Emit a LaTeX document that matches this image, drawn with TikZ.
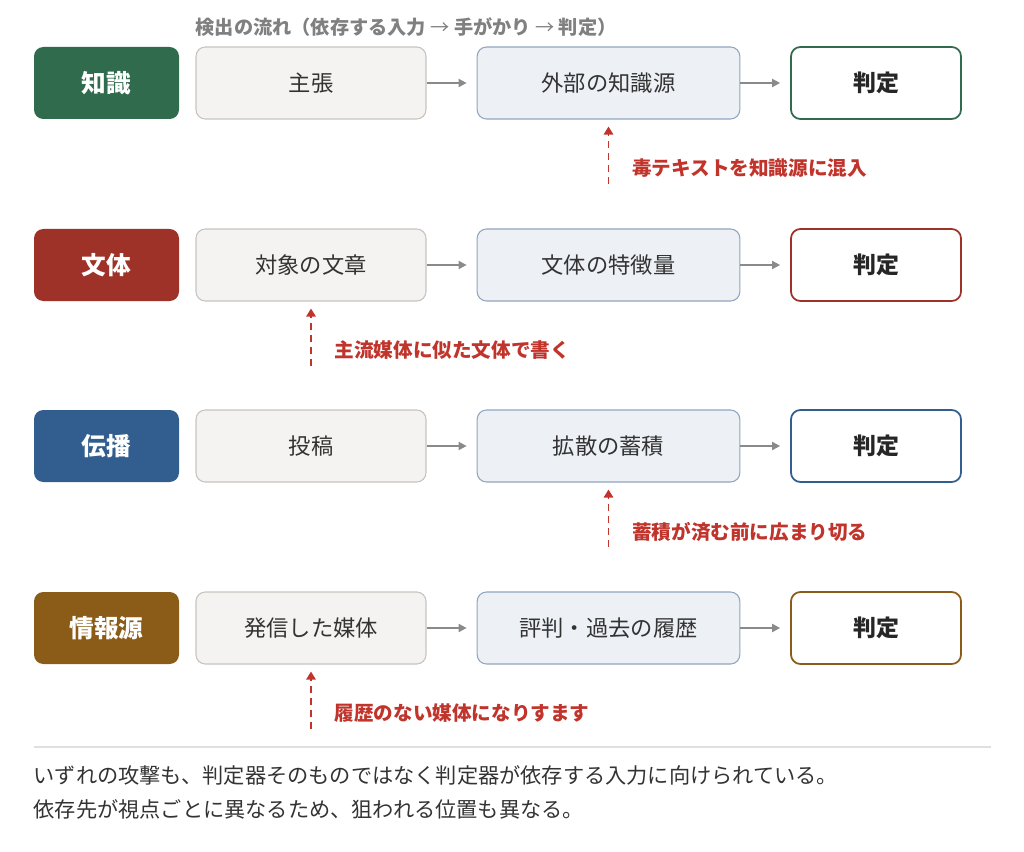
\documentclass[tikz,border=0pt]{standalone}
\usepackage{fontspec}
\setmainfont{Noto Sans CJK JP}
\usetikzlibrary{calc,arrows.meta}

\definecolor{cGreen}{HTML}{2F6B4C}
\definecolor{cRed}{HTML}{9E3128}
\definecolor{cBlue}{HTML}{315E8E}
\definecolor{cBrown}{HTML}{8A5C17}
\definecolor{atkRed}{HTML}{C0342C}
\definecolor{srcFill}{HTML}{F5F3F1}
\definecolor{srcLine}{HTML}{C8C3BE}
\definecolor{cueFill}{HTML}{EDF1F6}
\definecolor{cueLine}{HTML}{90A5BE}
\definecolor{flowGray}{HTML}{8A8A8A}

\tikzset{
  catbox/.style={rounded corners=7pt, minimum width=108.75pt, minimum height=54pt,
    text=white, font=\fontsize{18.5}{22}\selectfont\bfseries},
  srcbox/.style={draw=srcLine, fill=srcFill, rounded corners=7pt, line width=0.8pt,
    minimum width=172.5pt, minimum height=54pt, text=black!80, font=\fontsize{16.7}{20}\selectfont},
  cuebox/.style={draw=cueLine, fill=cueFill, rounded corners=7pt, line width=0.8pt,
    minimum width=197pt, minimum height=54pt, text=black!80, font=\fontsize{16.7}{20}\selectfont},
  jdgbox/.style={fill=white, rounded corners=7pt, line width=1.3pt,
    minimum width=127.5pt, minimum height=54pt, text=black!85, font=\fontsize{17.2}{20}\selectfont\bfseries},
  flow/.style={draw=flowGray, line width=1.3pt, -{Triangle[length=6pt,width=6pt]}},
  attack/.style={draw=atkRed, line width=1.3pt, dash pattern=on 5pt off 4pt,
    -{Triangle[length=6pt,width=7pt]}},
  atktext/.style={anchor=west, text=atkRed, font=\fontsize{14.7}{17}\selectfont\bfseries},
}
\newcommand{\thinarr}{{\mdseries →}}

\begin{document}
\begin{tikzpicture}[x=0.75pt,y=-0.75pt]
  \useasboundingbox (0,0) rectangle (1024,852);

  \node[anchor=west, text=black!50, font=\fontsize{14.4}{17}\selectfont\bfseries]
    (title) at (191,27) {検出の流れ（依存する入力 \thinarr{} 手がかり \thinarr{} 判定）};

  \foreach \i/\y/\cat/\col/\src/\cue/\atk/\ax in {
      1/83/知識/cGreen/主張/外部の知識源/毒テキストを知識源に混入/cue,
      2/265/文体/cRed/対象の文章/文体の特徴量/主流媒体に似た文体で書く/src,
      3/446/伝播/cBlue/投稿/拡散の蓄積/蓄積が済む前に広まり切る/cue,
      4/628/情報源/cBrown/発信した媒体/評判・過去の履歴/履歴のない媒体になりすます/src}{
    \node[catbox, fill=\col] (cat\i) at (106.5,\y) {\cat};
    \node[srcbox] (src\i) at (311,\y) {\src};
    \node[cuebox] (cue\i) at (608.5,\y) {\cue};
    \node[jdgbox, draw=\col] (jdg\i) at (876,\y) {判定};

    \draw[flow] (src\i.east) -- ([xshift=-7.5pt]cue\i.west);
    \draw[flow] (cue\i.east) -- ([xshift=-7.5pt]jdg\i.west);

    \coordinate (atk\i) at ($(\ax\i.south)+(0,64)$);
    \draw[attack] (atk\i) -- ($(\ax\i.south)+(0,7)$);
    \node[atktext] (lbl\i) at ($(atk\i)+(19,-15)$) {\atk};
  }

  \draw[black!12, line width=1pt] (34,747) -- (991,747);

  \node[anchor=west, text=black!80, font=\fontsize{15.9}{19}\selectfont]
    (note1) at (29,775) {いずれの攻撃も、判定器そのものではなく判定器が依存する入力に向けられている。};
  \node[anchor=west, text=black!80, font=\fontsize{15.9}{19}\selectfont]
    (note2) at (29,809) {依存先が視点ごとに異なるため、狙われる位置も異なる。};
\end{tikzpicture}
\end{document}
